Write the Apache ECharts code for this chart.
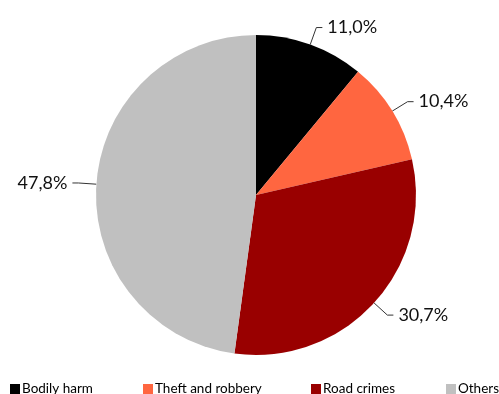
<!DOCTYPE html>
<html>
<head>
<meta charset="utf-8">
<script src="https://cdn.jsdelivr.net/npm/echarts@6/dist/echarts.min.js"></script>
<style>
  html, body { margin: 0; padding: 0; background: #fff; }
  #chart { width: 499px; height: 394px; }
</style>
</head>
<body>
<div id="chart"></div>
<script>
// data
var categories = ['Bodily harm', 'Theft and robbery', 'Road crimes', 'Others'];
var shares = [11.0, 10.4, 30.7, 47.8];
var colors = ['#000000', '#ff6640', '#990000', '#c0c0c0'];

var chart = echarts.init(document.getElementById('chart'));

var pieData = [];
for (var i = 0; i < categories.length; i++) {
    pieData.push({ name: categories[i], value: shares[i] });
}

// one legend per item so they can be spread out like the original
var legendLeft = [10, 143, 311, 446];
var legends = categories.map(function (name, i) {
    return {
        data: [name],
        left: legendLeft[i],
        top: 382,
        padding: 0,
        itemWidth: 10,
        itemHeight: 10,
        itemGap: 0,
        icon: 'rect',
        selectedMode: false,
        textStyle: { fontFamily: 'Lato', fontSize: 13.5, color: '#000', padding: [0, 0, 0, -3] }
    };
});

var option = {
    animation: false,
    color: colors,
    legend: legends,
    series: [
        {
            type: 'pie',
            center: [256, 195],
            radius: [0, 160],
            startAngle: 90,
            clockwise: true,
            data: pieData,
            label: {
                show: true,
                fontFamily: 'Lato',
                fontSize: 18,
                color: '#111',
                formatter: function (p) {
                    return p.value.toFixed(1).replace('.', ',') + '%';
                }
            },
            labelLine: {
                show: true,
                length: 18,
                length2: 6,
                lineStyle: { color: '#333', width: 1 }
            },
            emphasis: { disabled: true }
        }
    ]
};

chart.setOption(option);
</script>
</body>
</html>
